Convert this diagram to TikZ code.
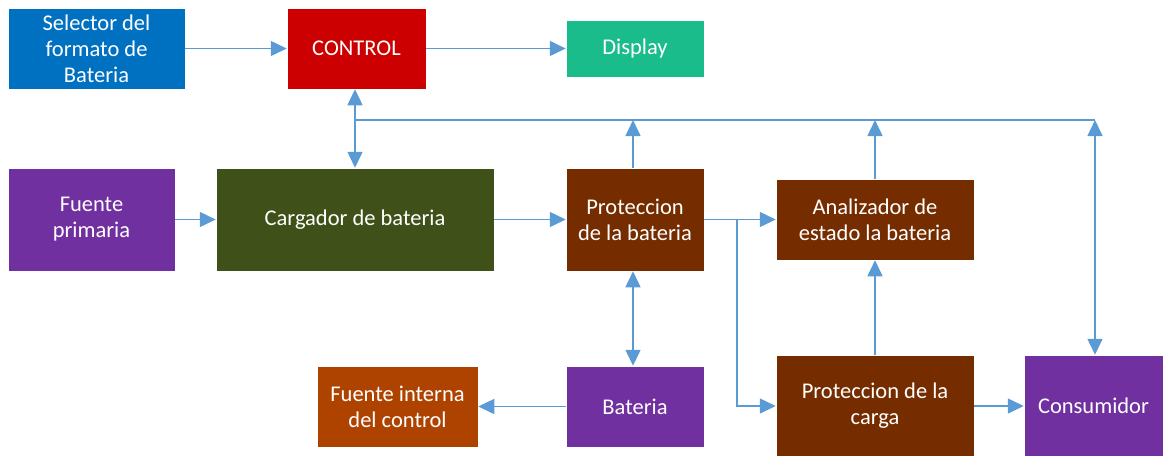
\documentclass[tikz,border=0pt]{standalone}
\usepackage{fontspec}
\setmainfont{Carlito}
\usetikzlibrary{arrows.meta}
\definecolor{cblue}{RGB}{0,112,192}
\definecolor{cred}{RGB}{204,0,0}
\definecolor{cgreen}{RGB}{26,188,140}
\definecolor{cpurple}{RGB}{112,48,160}
\definecolor{colive}{RGB}{63,81,24}
\definecolor{cbrown}{RGB}{117,45,0}
\definecolor{corange}{RGB}{174,67,0}
\definecolor{cline}{RGB}{91,155,213}
\tikzset{
  blk/.style={draw=white, line width=0.5pt, text=white, align=center, inner sep=0pt,
    font=\fontsize{22.5}{26}\selectfont},
  conn/.style={draw=cline, line width=1.5pt, -{Triangle[width=15pt,length=16pt]}},
  bconn/.style={draw=cline, line width=1.5pt, {Triangle[width=15pt,length=16pt]}-{Triangle[width=15pt,length=16pt]}},
  wire/.style={draw=cline, line width=1.5pt}
}
\begin{document}
\begin{tikzpicture}[x=1pt,y=-1pt]
\useasboundingbox (0,0) rectangle (1166,456);
\newcommand{\blkat}[7]{\node[blk, fill=#6, minimum width=#4pt, minimum height=#5pt] (#1) at (#2,#3) {#7};}
\blkat{sel}{96.5}{48.5}{177}{81}{cblue}{Selector del\\formato de\\Bateria}
\blkat{ctrl}{356.5}{48.5}{139}{81}{cred}{CONTROL}
\blkat{disp}{635}{48.5}{138}{57}{cgreen}{Display}
\blkat{fp}{91.5}{219.5}{167}{103}{cpurple}{Fuente\\primaria}
\blkat{carg}{355}{219.5}{278}{103}{colive}{Cargador de bateria}
\blkat{pb}{635}{219.5}{138}{103}{cbrown}{Proteccion\\de la bateria}
\blkat{an}{875}{219.5}{198}{81}{cbrown}{Analizador de\\estado la bateria}
\blkat{fi}{397.5}{406.5}{161}{81}{corange}{Fuente interna\\del control}
\blkat{bat}{635}{406.5}{138}{81}{cpurple}{Bateria}
\blkat{pc}{875}{405.5}{198}{101}{cbrown}{Proteccion de la\\carga}
\blkat{cons}{1093.5}{405.5}{139}{101}{cpurple}{Consumidor}

\coordinate (b1) at (355,120);
\coordinate (b2) at (633,120);
\coordinate (b3) at (875,120);
\coordinate (b4) at (1095,120);
\coordinate (j1) at (737,219.5);
\coordinate (j2) at (737,406);

\draw[conn] (sel) -- (ctrl);
\draw[conn] (ctrl) -- (disp);
\draw[wire] (b1) -- (b4);
\draw[bconn] (ctrl.south -| b1) -- (carg.north -| b1);
\draw[conn] (pb.north -| b2) -- (b2);
\draw[conn] (an.north) -- (b3);
\draw[bconn] (b4) -- (cons.north -| b4);
\draw[conn] (fp) -- (carg);
\draw[conn] (carg) -- (pb);
\draw[conn] (pb) -- (an);
\draw[conn] (j1) -- (j2) -- (pc.west |- j2);
\draw[bconn] (pb.south -| b2) -- (bat.north -| b2);
\draw[conn] (bat) -- (fi);
\draw[conn] (pc.north) -- (an.south);
\draw[conn] (pc.east |- j2) -- (cons.west |- j2);
\end{tikzpicture}
\end{document}
